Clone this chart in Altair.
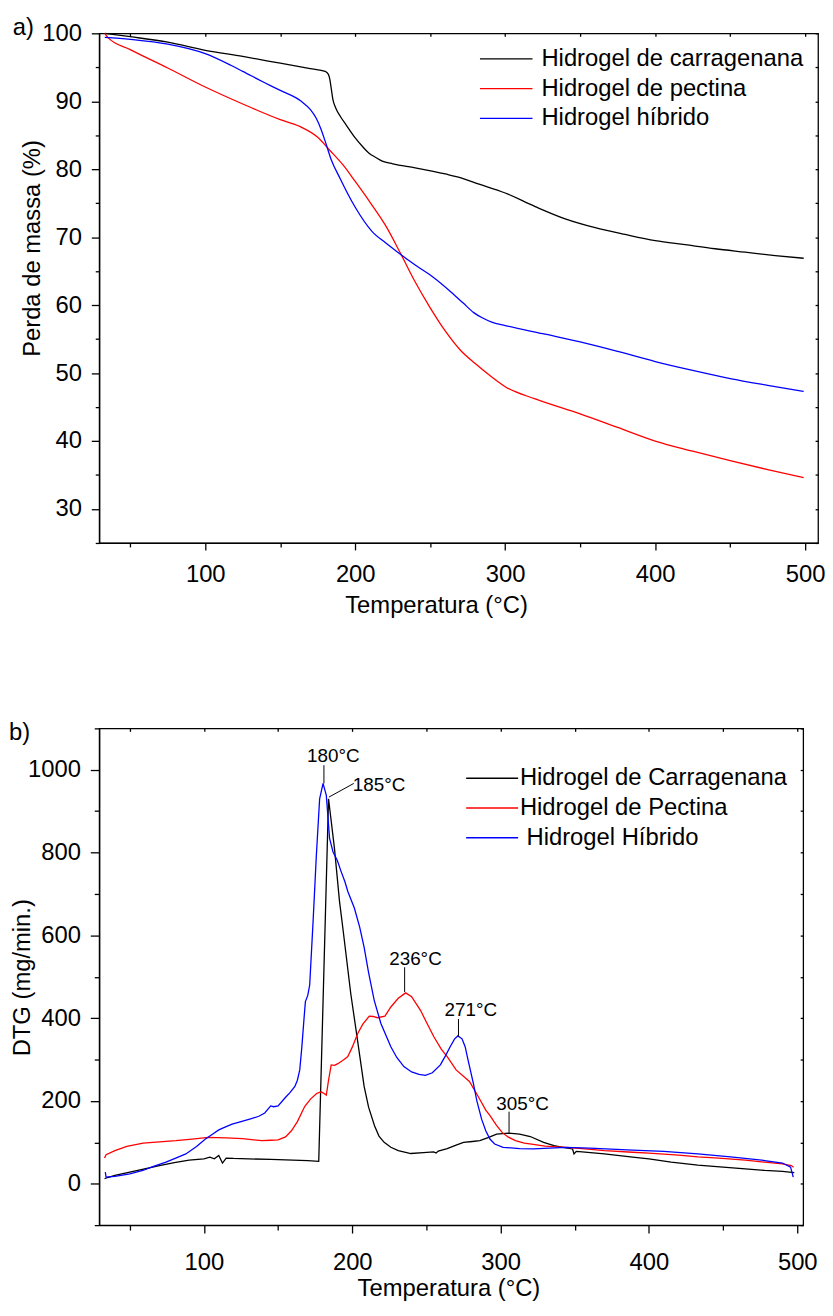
import altair as alt
import pandas as pd

FONT = "Liberation Sans"
FS = 24

# ---------------- Panel a) TGA ----------------
tga_series = ["Hidrogel de carragenana", "Hidrogel de pectina", "Hidrogel híbrido"]
tga_colors = ["#000000", "#ff0000", "#0000ff"]

carr_T = [33, 50, 75, 100, 125, 150, 170, 180, 182, 183, 184, 185, 187, 190, 194, 200, 205, 209, 214, 218,
          225, 240, 260, 271, 280, 300, 320, 340, 360, 380, 400, 420, 440, 460, 480, 499]
carr_m = [100, 99.5, 98.7, 97.5, 96.6, 95.6, 94.8, 94.4, 94.0, 93.3, 91.9, 90.4, 89.0, 87.8, 86.5, 84.6, 83.3,
          82.4, 81.7, 81.2, 80.8, 80.2, 79.3, 78.7, 78.0, 76.5, 74.5, 72.7, 71.4, 70.4, 69.5, 68.9, 68.3, 67.8,
          67.3, 66.9]

pect_T = [33, 35, 50, 75, 100, 125, 150, 163, 175, 183, 192, 200, 210, 220, 230, 240, 250, 260, 270, 280,
          290, 300, 320, 350, 375, 400, 425, 450, 475, 499]
pect_m = [100, 99.4, 97.6, 94.9, 92.1, 89.6, 87.3, 86.3, 84.7, 82.8, 80.6, 78.2, 75.1, 71.8, 67.7, 63.4,
          59.6, 56.2, 53.4, 51.4, 49.6, 48.0, 46.2, 44.0, 42.0, 40.0, 38.5, 37.1, 35.8, 34.6]

hibr_T = [33, 50, 75, 100, 117, 125, 139, 150, 164, 170, 174, 177, 180, 184, 190, 195, 200, 211, 220, 227,
          240, 252, 264, 272, 279, 285, 291, 300, 325, 350, 375, 400, 425, 450, 475, 499]
hibr_m = [99.4, 99.1, 98.4, 97.0, 95.3, 94.4, 92.8, 91.6, 90.0, 88.8, 87.5, 86.0, 84.1, 81.4, 78.6, 76.4,
          74.4, 70.9, 69.2, 68.0, 65.9, 64.1, 61.9, 60.3, 58.9, 58.1, 57.5, 57.0, 55.8, 54.6, 53.2, 51.7,
          50.4, 49.2, 48.2, 47.3]

# ---------------- Panel b) DTG ----------------
dtg_series = ["Hidrogel de Carragenana", "Hidrogel de Pectina", "\u200b\u00a0Hidrogel Híbrido"]
dtg_colors = ["#000000", "#ff0000", "#0000ff"]

dcar_T = [33, 35, 40, 50, 60, 70, 80, 90, 100, 104, 107, 110, 112.5, 115, 120, 130, 145, 160, 170, 177.4,
          184, 188, 191.4, 193.6, 199, 203, 208, 211, 215, 218, 221.5, 226, 231, 239.5, 248, 254.9, 256.5,
          258, 264, 270, 275, 281, 286, 292, 297.3, 305.5, 312.8, 320, 329, 336, 342, 348.5, 349.5, 351,
          355, 370, 389, 400, 415, 433, 450, 465, 478, 490, 498]
dcar_v = [12, 15, 20, 28, 36, 44, 51, 57, 60, 64, 60, 68, 50, 62, 61, 60, 59, 57, 56, 54,
          930, 810, 682, 619, 459, 360, 235, 185, 140, 115, 100, 88, 80, 73, 75, 77, 74,
          79, 85, 93, 100, 102, 104, 112, 120, 122, 120, 114, 100, 92, 88, 84, 72, 78,
          77, 72, 64, 60, 52, 45, 40, 36, 32, 30, 27]

dpec_T = [33, 34, 40, 48, 59, 70, 81, 92, 103, 115, 126, 139, 145, 150, 155, 159, 163, 168, 172, 176, 179,
          181, 182.5, 184, 185.8, 188, 190.3, 194, 197, 200, 203.7, 207, 211.5, 214, 217, 222, 226, 231,
          236, 240, 246, 250, 255, 260, 264, 270, 279, 285, 290, 293, 297, 301, 305, 310, 316, 322, 330,
          344, 357, 370, 389, 400, 420, 433, 447, 465, 478, 490, 496, 497.5]
dpec_v = [62, 70, 80, 90, 98, 101, 104, 108, 112, 111, 109, 104, 105, 106, 113, 128, 150, 187, 205, 218, 222,
          218, 214, 250, 287, 286, 290, 299, 307, 330, 363, 385, 405, 404, 401, 405, 427, 448,
          461, 452, 419, 390, 355, 325, 307, 275, 247, 210, 178, 164, 142, 124, 113, 104, 98, 95, 91,
          88, 84, 80, 76, 74, 69, 65, 62, 57, 52, 48, 44, 40]

dhib_T = [33.5, 34, 40, 50, 58.8, 66, 74.4, 81, 87.8, 95, 101, 106, 110, 115, 119, 125, 132, 137, 141, 145,
          147, 150, 154.6, 158, 161.3, 163, 164.6, 166, 167.5, 168.4, 170, 171.3, 173.6, 175.8, 178, 180.3,
          182.5, 184.7, 187, 190, 192.5, 195, 197, 201.4, 205, 208, 211, 214.8, 219.3, 226, 230, 234.8,
          240, 245, 249.3, 254, 259.4, 263, 266, 269, 271.2, 274, 276.1, 278, 281.6, 284, 287.2, 290,
          292.8, 296, 301.7, 312.8, 322, 344, 360, 389, 410, 433, 455, 478, 490, 495.5, 497.3]
dhib_v = [28, 16, 18, 24, 32, 42, 52, 62, 72, 90, 108, 120, 130, 138, 144, 150, 157, 163, 171, 188,
          186, 188, 207, 220, 235, 250, 275, 330, 400, 440, 455, 480, 635, 794, 930, 967,
          938, 834, 802, 780, 754, 730, 706, 666, 620, 571, 510, 443, 387, 331, 305, 283,
          270, 264, 262, 268, 287, 310, 331, 350, 357, 350, 331, 300, 243, 200, 156, 128,
          108, 96, 88, 85, 84, 88, 86, 81, 78, 72, 65, 56, 50, 40, 16]

# peak annotations (label position, leader line ends) in data units
ann_text = ["180°C", "185°C", "236°C", "271°C", "305°C"]
ann_tx = [187.2, 218.1, 242.6, 279.9, 314.8]
ann_ty = [1033, 963, 543, 419, 192]
ann_x1 = [180.9, 201.0, 235.3, 271.6, 305.7]
ann_y1 = [1011, 967, 523, 398, 174]
ann_x2 = [180.9, 184.3, 235.3, 271.6, 305.7]
ann_y2 = [967, 934, 463, 356, 123]

# panel letters, placed in each panel's data units (outside the plot area)
pa_label = ["a)"]
pa_T = [-28.4]
pa_m = [99.7]
pb_label = ["b)"]
pb_T = [-31.4]
pb_v = [1071]

# ---------------- data frames ----------------
def long(series, Ts, Vs, tname, vname):
    rows = []
    for s, T, V in zip(series, Ts, Vs):
        for i, (t, v) in enumerate(zip(T, V)):
            rows.append({tname: t, vname: v, "s": s, "i": i})
    return pd.DataFrame(rows)

df_a = long(tga_series, [carr_T, pect_T, hibr_T], [carr_m, pect_m, hibr_m], "T", "m")
df_b = long(dtg_series, [dcar_T, dpec_T, dhib_T], [dcar_v, dpec_v, dhib_v], "Tb", "d")
df_ann = pd.DataFrame({"text": ann_text, "tx": ann_tx, "ty": ann_ty,
                       "x1": ann_x1, "y1": ann_y1, "x2": ann_x2, "y2": ann_y2})
df_pa = pd.DataFrame({"lab": pa_label, "T": pa_T, "m": pa_m})
df_pb = pd.DataFrame({"lab": pb_label, "Tb": pb_T, "d": pb_v})

X0 = 99  # plot-area left edge on page (approx)

def cond_tick(test, minor, major):
    return {"condition": {"test": test, "value": minor}, "value": major}

def inner_axis(orient, values):
    # mirrored ticks on the top / right border, pointing into the plot
    return alt.Axis(orient=orient, values=values, offset=-3, tickSize=3, domain=False,
                    labels=False, title=None)

# ---------------- panel a ----------------
xa_scale = alt.Scale(domain=[29.3, 508.6], nice=False, zero=False)
ya_scale = alt.Scale(domain=[25, 100], nice=False, zero=False)

xa_axis = alt.Axis(values=list(range(50, 501, 50)), format="d",
                   labelExpr="datum.value % 100 === 0 ? datum.label : ''",
                   tickSize=cond_tick("datum.value % 100 !== 0", 4, 7),
                   labelPadding=13, title="Temperatura (°C)",
                   titleX=438.7 - X0, titleY=63, titleBaseline="middle")
ya_axis = alt.Axis(values=list(range(25, 101, 5)), format="d",
                   labelExpr="datum.value % 10 === 0 ? datum.label : ''",
                   tickSize=cond_tick("datum.value % 10 !== 0", 4, 8),
                   labelPadding=10, title="Perda de massa (%)",
                   titleX=32 - X0, titleY=216.5, titleBaseline="middle")

a_lines = alt.Chart(df_a).mark_line(strokeWidth=1.3, interpolate="monotone").encode(
    x=alt.X("T:Q", scale=xa_scale, axis=xa_axis),
    y=alt.Y("m:Q", scale=ya_scale, axis=ya_axis),
    color=alt.Color("s:N", scale=alt.Scale(domain=tga_series, range=tga_colors),
                    legend=alt.Legend(orient="none", legendX=482 - X0, legendY=11, title=None,
                                      symbolType="stroke", symbolSize=2809, symbolStrokeWidth=1.3,
                                      clipHeight=29.5, rowPadding=0, labelOffset=8, padding=0,
                                      labelLimit=0, labelFont=FONT, labelFontSize=FS,
                                      labelColor="black")),
    order="i:Q",
)

a_letter = alt.Chart(df_pa).mark_text(font=FONT, fontSize=FS, color="black", align="left",
                                      baseline="alphabetic").encode(
    x=alt.X("T:Q", scale=xa_scale, axis=inner_axis("top", list(range(50, 501, 50)))),
    y=alt.Y("m:Q", scale=ya_scale, axis=inner_axis("right", list(range(25, 101, 5)))),
    text="lab:N",
)

panel_a = alt.layer(a_lines, a_letter).resolve_axis(
    x="independent", y="independent").properties(width=725, height=514)

# ---------------- panel b ----------------
xb_scale = alt.Scale(domain=[29.4, 504], nice=False, zero=False)
yb_scale = alt.Scale(domain=[-100, 1100], nice=False, zero=False)

xb_axis = alt.Axis(values=list(range(50, 501, 50)), format="d",
                   labelExpr="datum.value % 100 === 0 ? datum.label : ''",
                   tickSize=cond_tick("datum.value % 100 !== 0", 5, 8),
                   labelPadding=18, title="Temperatura (°C)",
                   titleX=451.2 - X0, titleY=64, titleBaseline="middle")
yb_axis = alt.Axis(values=list(range(-100, 1101, 100)), format="d",
                   labelExpr="datum.value % 200 === 0 ? datum.label : ''",
                   tickSize=cond_tick("datum.value % 200 !== 0", 5, 9),
                   labelPadding=10, title="DTG (mg/min.)",
                   titleX=22 - X0, titleY=251, titleBaseline="middle")

b_lines = alt.Chart(df_b).mark_line(strokeWidth=1.3).encode(
    x=alt.X("Tb:Q", scale=xb_scale, axis=xb_axis),
    y=alt.Y("d:Q", scale=yb_scale, axis=yb_axis),
    color=alt.Color("s:N", scale=alt.Scale(domain=dtg_series, range=dtg_colors),
                    legend=alt.Legend(orient="none", legendX=468.3 - X0, legendY=35.4, title=None,
                                      symbolType="stroke", symbolSize=2746, symbolStrokeWidth=1.3,
                                      clipHeight=29.8, rowPadding=0, labelOffset=1, padding=0,
                                      labelLimit=0, labelFont=FONT, labelFontSize=FS,
                                      labelColor="black")),
    order="i:Q",
)

b_rules = alt.Chart(df_ann).mark_rule(color="black", strokeWidth=1).encode(
    x=alt.X("x1:Q", scale=xb_scale, axis=None),
    y=alt.Y("y1:Q", scale=yb_scale, axis=None),
    x2="x2:Q", y2="y2:Q",
)

b_text = alt.Chart(df_ann).mark_text(font=FONT, fontSize=19, color="black").encode(
    x=alt.X("tx:Q", scale=xb_scale, axis=None),
    y=alt.Y("ty:Q", scale=yb_scale, axis=None),
    text="text:N",
)

b_letter = alt.Chart(df_pb).mark_text(font=FONT, fontSize=FS, color="black", align="left",
                                      baseline="alphabetic").encode(
    x=alt.X("Tb:Q", scale=xb_scale, axis=inner_axis("top", list(range(50, 501, 50)))),
    y=alt.Y("d:Q", scale=yb_scale, axis=inner_axis("right", list(range(-100, 1101, 100)))),
    text="lab:N",
)

panel_b = alt.layer(b_lines, b_rules, b_text, b_letter).resolve_axis(
    x="independent", y="independent").properties(width=710, height=501)

chart = alt.vconcat(panel_a, panel_b, spacing=103).resolve_scale(
    x="independent", y="independent", color="independent"
).properties(
    padding={"left": 0, "top": 2, "right": -1, "bottom": -4}
).configure_axis(
    domainColor="black", domainWidth=1.3, tickColor="black", tickWidth=1.3, grid=False,
    labelFont=FONT, labelFontSize=FS, labelColor="black",
    titleFont=FONT, titleFontSize=FS, titleFontWeight="normal", titleColor="black",
).configure_view(
    stroke="black", strokeWidth=1.3
)

chart.save("out.html", embed_options={"renderer": "svg", "actions": False})
